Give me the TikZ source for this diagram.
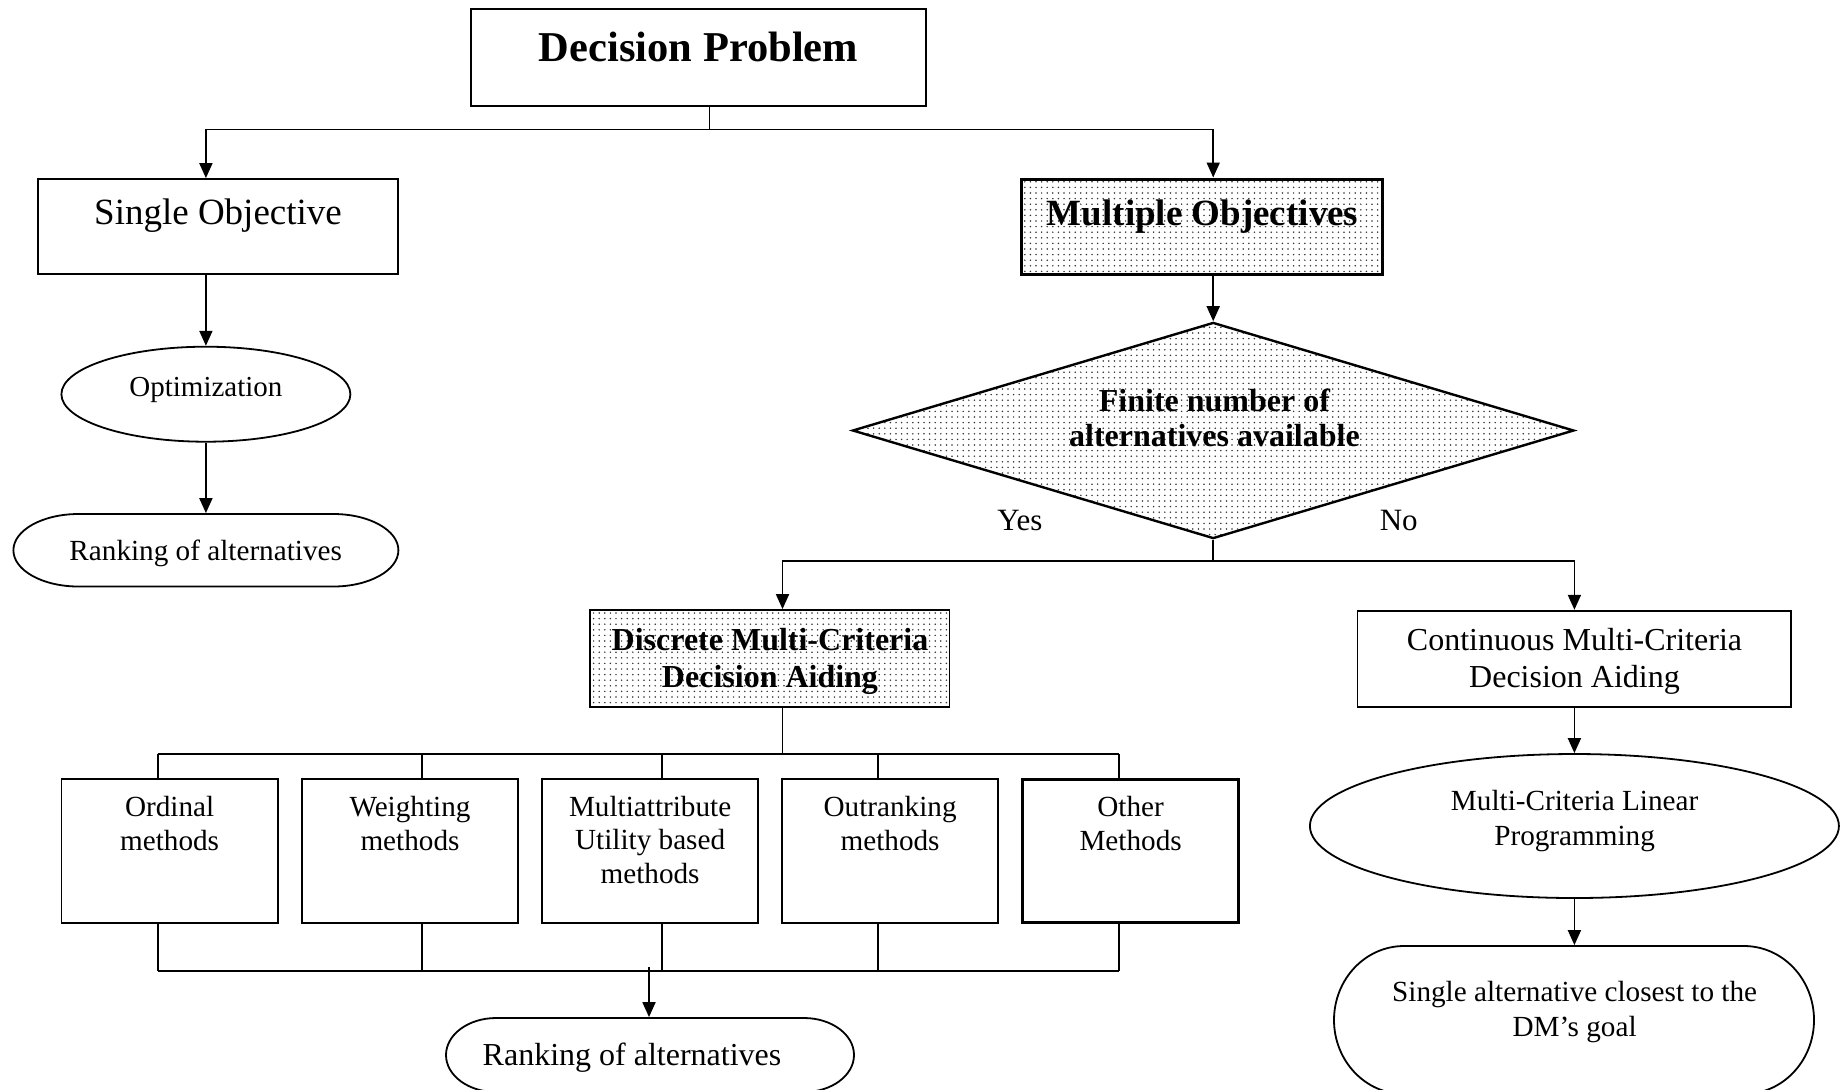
\documentclass[tikz,border=0pt]{standalone}
\usepackage{fontspec}
\setmainfont{Liberation Serif}
\usetikzlibrary{shapes.geometric,arrows.meta,patterns.meta}
\begin{document}
\begin{tikzpicture}[x=0.5pt,y=-0.5pt,line width=0.9pt,
  arr/.style={-{Triangle[length=7.5pt,width=6.5pt]}},
  boxnode/.style={draw,rectangle,inner sep=0pt},
  dotfill/.style={pattern={Dots[distance=2.8pt,radius=0.42pt]},pattern color=black!80},
  ghost/.style={rectangle,inner sep=0pt,draw=none},
  txt/.style={anchor=base,inner sep=0pt,align=center},
  fA/.style={font=\fontsize{14.6}{16.7}\selectfont},
  fB/.style={font=\fontsize{16}{18.3}\selectfont},
  fBb/.style={font=\fontsize{16}{18.3}\selectfont\bfseries},
]
\useasboundingbox (0,0) rectangle (1845,1089);

% --- boxes and shapes ---
\node[boxnode,minimum width=227.5pt,minimum height=48.5pt] (dp) at (698.5,57.7) {};
\node[txt,font=\fontsize{21.25}{24}\selectfont\bfseries] (dpt) at (698.5,61.7) {Decision Problem};

\node[boxnode,minimum width=180pt,minimum height=47.5pt] (so) at (218,226.5) {};
\node[txt,font=\fontsize{18.5}{21}\selectfont] (sot) at (218,224) {Single Objective};

\node[boxnode,dotfill,line width=1.5pt,minimum width=180.6pt,minimum height=47.5pt] (mo) at (1202,226.5) {};
\node[txt,font=\fontsize{18.5}{21}\selectfont\bfseries] (mot) at (1202.6,225) {Multiple Objectives};

\node[ellipse,draw,inner sep=0pt,minimum width=144.5pt,minimum height=47.5pt] (opt) at (205.9,394.2) {};
\node[txt,font=\fontsize{14.5}{16.7}\selectfont] (optt) at (205.9,396) {Optimization};

\node[ghost,minimum width=192.5pt,minimum height=36.25pt] (rank1) at (205.9,550.25) {};
\draw (78.4,514) -- (333.4,514)
  arc[start angle=90,end angle=-90,x radius=32.5pt,y radius=18.125pt]
  -- (78.4,586.5)
  arc[start angle=270,end angle=90,x radius=32.5pt,y radius=18.125pt] -- cycle;
\node[txt,fA] (rank1t) at (205.7,560) {Ranking of alternatives};

\node[diamond,draw,dotfill,line width=1.2pt,inner sep=0pt,minimum width=360.75pt,minimum height=108.1pt] (dia) at (1213.2,430.5) {};
\node[txt,font=\fontsize{16}{17.5}\selectfont\bfseries] (diat) at (1214.4,446.7) {Finite number of\\alternatives available};

\node[txt,font=\fontsize{15.5}{18}\selectfont] (yes) at (1019.8,530.7) {Yes};
\node[txt,font=\fontsize{15.5}{18}\selectfont] (no) at (1398.7,530.7) {No};

\node[boxnode,dotfill,minimum width=179.9pt,minimum height=48.35pt] (disc) at (769.5,658.35) {};
\node[txt,fBb] (disct) at (770,687.3) {Discrete Multi-Criteria\\Decision Aiding};

\node[boxnode,minimum width=216.8pt,minimum height=48pt] (cont) at (1574.2,658.7) {};
\node[txt,fB] (contt) at (1574.5,687.3) {Continuous Multi-Criteria\\Decision Aiding};

\node[boxnode,minimum width=108.2pt,minimum height=71.85pt] (m1) at (169.6,850.85) {};
\node[boxnode,minimum width=108.2pt,minimum height=71.85pt] (m2) at (410,850.85) {};
\node[boxnode,minimum width=108.2pt,minimum height=71.85pt] (m3) at (650.1,850.85) {};
\node[boxnode,minimum width=108.2pt,minimum height=71.85pt] (m4) at (890.1,850.85) {};
\node[boxnode,line width=1.5pt,minimum width=108.2pt,minimum height=71.85pt] (m5) at (1130.6,850.85) {};
\node[txt,fA] (m1t) at (169.6,850) {Ordinal\\methods};
\node[txt,fA] (m2t) at (410,850) {Weighting\\methods};
\node[txt,fA] (m3t) at (650.1,883.3) {Multiattribute\\Utility based\\methods};
\node[txt,fA] (m4t) at (890.1,850) {Outranking\\methods};
\node[txt,fA] (m5t) at (1130.6,850) {Other\\Methods};

\node[ghost,minimum width=204pt,minimum height=37pt] (rank2) at (650,1055) {};
\draw (496,1018) -- (804,1018)
  arc[start angle=90,end angle=-90,x radius=25pt,y radius=18.5pt]
  -- (496,1092)
  arc[start angle=270,end angle=90,x radius=25pt,y radius=18.5pt] -- cycle;
\node[txt,font=\fontsize{16}{18.3}\selectfont] (rank2t) at (632,1065) {Ranking of alternatives};

\node[ellipse,draw,inner sep=0pt,minimum width=264.5pt,minimum height=72pt] (mclp) at (1574.4,826) {};
\node[txt,font=\fontsize{14.6}{17.15}\selectfont] (mclpt) at (1574.6,845) {Multi-Criteria Linear\\Programming};

\node[ghost,minimum width=240pt,minimum height=74pt] (salt) at (1574.4,1020) {};
\draw (1404,946) -- (1744,946)
  arc[start angle=90,end angle=-90,x radius=35pt,y radius=37pt]
  -- (1404,1094)
  arc[start angle=270,end angle=90,x radius=35pt,y radius=37pt] -- cycle;
\node[txt,font=\fontsize{14.6}{17.15}\selectfont] (saltt) at (1574.6,1036) {Single alternative closest to the\\DM’s goal};

% --- connectors ---
\coordinate (jdp) at (709.5,129.4);
\coordinate (jl) at (205.9,129.4);
\coordinate (jr) at (1213.2,129.4);
\draw (jdp|-dp.south) -- (jdp);
\draw[arr] (jdp) -- (jl) -- (jl|-so.north);
\draw[arr] (jdp) -- (jr) -- (jr|-mo.north);
\draw[arr] (jl|-so.south) -- (opt.north);
\draw[arr] (opt.south) -- (rank1.north);
\draw[arr] (jr|-mo.south) -- (dia.north);

\coordinate (jd) at (1213.2,561.3);
\coordinate (jy) at (782.5,561.3);
\coordinate (jn) at (1574.4,561.3);
\draw (dia.south) -- (jd);
\draw[arr] (jd) -- (jy) -- (jy|-disc.north);
\draw[arr] (jd) -- (jn) -- (jn|-cont.north);

\coordinate (jm) at (782.5,754.3);
\draw (jy|-disc.south) -- (jm);
\coordinate (s1) at (157.7,754.3);
\coordinate (s2) at (422,754.3);
\coordinate (s3) at (661.7,754.3);
\coordinate (s4) at (878,754.3);
\coordinate (s5) at (1118.6,754.3);
\draw (s1) -- (s5);
\coordinate (t1) at (157.7,971);
\coordinate (t2) at (422,971);
\coordinate (t3) at (661.7,971);
\coordinate (t4) at (878,971);
\coordinate (t5) at (1118.6,971);
\draw (t1) -- (t5);
\foreach \i in {1,...,5}{
  \draw (s\i) -- (s\i|-m\i.north);
  \draw (t\i|-m\i.south) -- (t\i);
}
\coordinate (jb) at (649,967);
\draw[arr] (jb) -- (jb|-rank2.north);

\draw[arr] (jn|-cont.south) -- (mclp.north);
\draw[arr] (mclp.south) -- (salt.north);
\end{tikzpicture}
\end{document}
